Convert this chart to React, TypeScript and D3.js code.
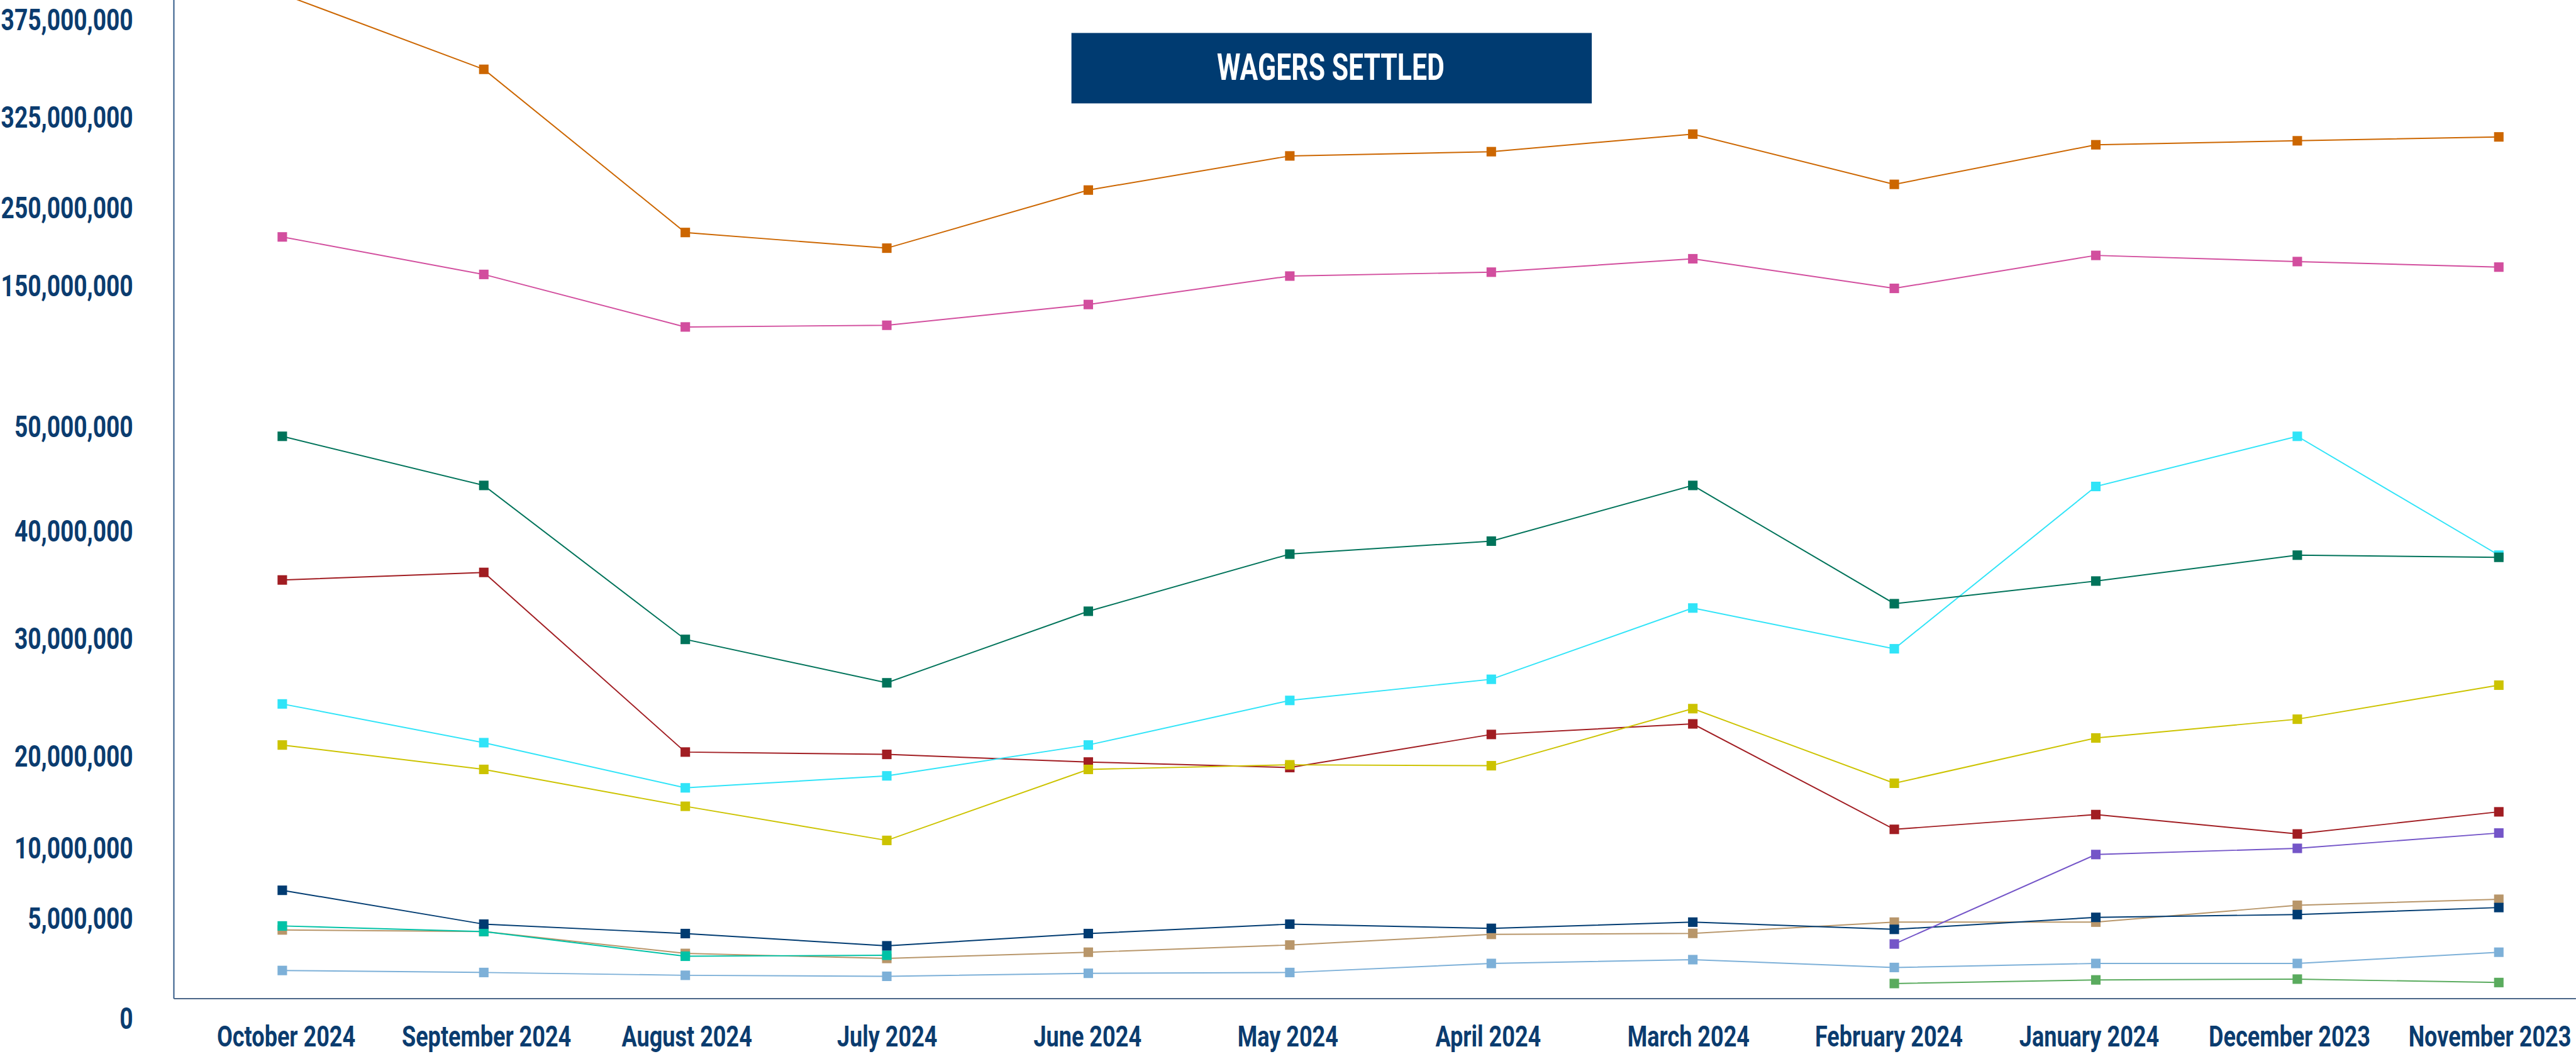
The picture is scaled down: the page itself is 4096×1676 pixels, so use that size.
import React from 'react';
import * as d3 from 'd3';

// ---------- data ----------
const months = [
  'October 2024', 'September 2024', 'August 2024', 'July 2024', 'June 2024', 'May 2024',
  'April 2024', 'March 2024', 'February 2024', 'January 2024', 'December 2023', 'November 2023',
];

const yTickValues = [0, 5e6, 10e6, 20e6, 30e6, 40e6, 50e6, 150e6, 250e6, 325e6, 375e6];

const title = 'WAGERS SETTLED';

// values in millions, order = months
const seriesOrange = [386, 348.6, 218.1, 198.0, 264.5, 292.7, 296.2, 310.7, 269.2, 301.9, 305.2, 308.4];
const seriesPink = [212.4, 164.3, 120.5, 121.7, 136.5, 162.2, 167.2, 184.4, 148.0, 188.7, 180.8, 173.7];
const seriesGreen = [49.0, 44.3, 29.9, 26.2, 32.5, 37.8, 39.0, 44.3, 33.2, 35.3, 37.7, 37.5];
const seriesRed = [35.4, 36.1, 20.3, 20.1, 19.3, 18.7, 21.8, 22.7, 12.0, 13.6, 11.5, 13.9];
const seriesCyan = [24.4, 21.1, 16.5, 17.8, 20.9, 24.7, 26.5, 32.8, 29.1, 44.2, 49.0, 37.7];
const seriesYellow = [20.9, 18.5, 14.5, 10.8, 18.5, 19.0, 18.9, 24.0, 17.0, 21.5, 23.1, 26.0];
const seriesPurple = [null, null, null, null, null, null, null, null, 3.70, 9.52, 9.96, 11.6];
const seriesNavy = [6.97, 4.69, 4.22, 3.61, 4.22, 4.69, 4.48, 4.79, 4.43, 5.04, 5.24, 5.74];
const seriesTan = [4.40, 4.32, 3.23, 2.98, 3.29, 3.65, 4.18, 4.23, 4.79, 4.79, 5.90, 6.33];
const seriesTeal = [4.60, 4.32, 3.09, 3.14, null, null, null, null, null, null, null, null];
const seriesLightBlue = [2.38, 2.28, 2.14, 2.09, 2.24, 2.28, 2.73, 2.92, 2.53, 2.73, 2.73, 3.29];
const seriesLightGreen = [null, null, null, null, null, null, null, null, 1.73, 1.91, 1.95, 1.78];

// drawing order (bottom to top) with colours
const seriesList: { values: (number | null)[]; color: string }[] = [
  { values: seriesLightBlue, color: '#7db0d8' },
  { values: seriesLightGreen, color: '#5aab5e' },
  { values: seriesTan, color: '#b8966a' },
  { values: seriesTeal, color: '#00c2a6' },
  { values: seriesNavy, color: '#003b71' },
  { values: seriesPurple, color: '#7455c8' },
  { values: seriesRed, color: '#a11d22' },
  { values: seriesYellow, color: '#ccc300' },
  { values: seriesCyan, color: '#30e4f8' },
  { values: seriesGreen, color: '#00735a' },
  { values: seriesPink, color: '#d24e9e' },
  { values: seriesOrange, color: '#cc6600' },
];

// ---------- layout (reference pixel units) ----------
const W = 4609;
const H = 1886;
const AXIS_X = 311;
const AXIS_Y = 1787;
const X_RANGE: [number, number] = [505, 4471];
const X_LABEL_RANGE: [number, number] = [512, 4455];
const Y_RANGE_BREAKS = [1822, 1642.5, 1517, 1352, 1142, 949, 762, 511, 371.5, 209, 29];
const TEXT = '#0b3c6f';
const FONT = 'Roboto, "Noto Sans", sans-serif';
const MARK = 17;

export default function App() {
  const x = d3.scalePoint<string>().domain(months).range(X_RANGE);
  const xl = d3.scalePoint<string>().domain(months).range(X_LABEL_RANGE);
  const y = d3.scaleLinear().domain(yTickValues).range(Y_RANGE_BREAKS);
  const fmt = d3.format(',');

  const line = d3
    .line<[string, number | null]>()
    .defined((d) => d[1] != null)
    .x((d) => x(d[0]) as number)
    .y((d) => y((d[1] as number) * 1e6));

  const yFs = 55;
  const xFs = 52;
  const tFs = 66;

  return (
    <svg
      width={4096}
      height={1676}
      viewBox={`0 0 ${W} ${H}`}
      style={{ position: 'absolute', left: 0, top: 0, display: 'block', background: '#fff' }}
    >
      <rect x={0} y={0} width={W} height={H} fill="#fff" />

      {/* title box */}
      <rect x={1917} y={59} width={931} height={126} fill="#003b71" />
      <g transform={`translate(2381,143) scale(0.73,1)`}>
        <text textAnchor="middle" fill="#fff" fontFamily={FONT} fontWeight={700} fontSize={tFs}>
          {title}
        </text>
      </g>

      {/* axes */}
      <line x1={AXIS_X} x2={AXIS_X} y1={0} y2={AXIS_Y} stroke="#2f5887" strokeWidth={2.2} />
      <line x1={AXIS_X} x2={W} y1={AXIS_Y} y2={AXIS_Y} stroke="#4b6688" strokeWidth={2.2} />

      {/* y labels */}
      {yTickValues.map((v) => (
        <g
          key={v}
          transform={`translate(238,${Math.max(y(v) + yFs * 0.355, yFs * 0.98)}) scale(0.76,1)`}
        >
          <text textAnchor="end" fill={TEXT} fontFamily={FONT} fontWeight={700} fontSize={yFs}>
            {fmt(v)}
          </text>
        </g>
      ))}

      {/* x labels */}
      {months.map((m) => (
        <g key={m} transform={`translate(${xl(m) as number},1872) scale(0.78,1)`}>
          <text textAnchor="middle" fill={TEXT} fontFamily={FONT} fontWeight={700} fontSize={xFs}>
            {m}
          </text>
        </g>
      ))}

      {/* series */}
      {seriesList.map((s, i) => {
        const pts = months.map((m, j) => [m, s.values[j]] as [string, number | null]);
        return (
          <g key={i}>
            <path d={line(pts) || ''} fill="none" stroke={s.color} strokeWidth={2.2} />
            {pts
              .filter((p) => p[1] != null)
              .map((p) => (
                <rect
                  key={p[0]}
                  x={(x(p[0]) as number) - MARK / 2}
                  y={y((p[1] as number) * 1e6) - MARK / 2}
                  width={MARK}
                  height={MARK}
                  fill={s.color}
                />
              ))}
          </g>
        );
      })}
    </svg>
  );
}
